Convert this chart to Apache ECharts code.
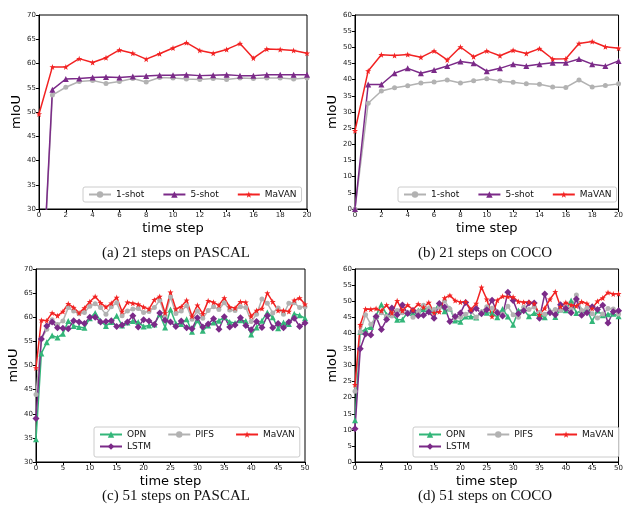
<!DOCTYPE html>
<html>
<head>
<meta charset="utf-8">
<script src="https://cdn.jsdelivr.net/npm/echarts@6/dist/echarts.min.js"></script>
<style>html,body{margin:0;padding:0;background:#fff}#c{width:626px;height:505px}</style>
</head>
<body>
<div id="c"></div>
<script>
// ---------- data ----------
var steps21 = [0,1,2,3,4,5,6,7,8,9,10,11,12,13,14,15,16,17,18,19,20];
var steps51 = [0,1,2,3,4,5,6,7,8,9,10,11,12,13,14,15,16,17,18,19,20,21,22,23,24,25,26,27,28,29,30,31,32,33,34,35,36,37,38,39,40,41,42,43,44,45,46,47,48,49,50];

// (a) 21 steps on PASCAL
var a_oneShot  = [0, 53.5, 55.1, 56.3, 56.5, 55.9, 56.3, 56.9, 56.2, 57.1, 57.0, 56.8, 56.7, 56.9, 56.7, 57.0, 56.9, 57.0, 57.0, 56.8, 57.0];
var a_fiveShot = [0, 54.6, 56.8, 56.9, 57.1, 57.2, 57.1, 57.3, 57.4, 57.6, 57.6, 57.7, 57.5, 57.6, 57.7, 57.5, 57.5, 57.7, 57.7, 57.7, 57.7];
var a_mavan    = [49.6, 59.3, 59.3, 61.0, 60.2, 61.2, 62.8, 62.1, 60.9, 62.0, 63.2, 64.3, 62.7, 62.1, 62.9, 64.1, 61.1, 63.0, 62.9, 62.7, 62.1];

// (b) 21 steps on COCO
var b_oneShot  = [0, 32.7, 36.5, 37.5, 38.1, 39.0, 39.3, 39.9, 39.0, 39.7, 40.3, 39.6, 39.2, 38.7, 38.6, 37.7, 37.6, 39.9, 37.7, 38.2, 38.7];
var b_fiveShot = [0, 38.5, 38.5, 42.0, 43.5, 42.0, 43.0, 44.2, 45.6, 45.1, 42.6, 43.5, 44.8, 44.2, 44.8, 45.2, 45.2, 46.4, 44.8, 44.2, 45.8];
var b_mavan    = [24.2, 42.7, 47.7, 47.5, 47.8, 46.9, 48.9, 46.1, 50.1, 47.1, 48.9, 47.4, 49.1, 48.1, 49.6, 46.4, 46.5, 51.2, 51.8, 50.2, 49.7];

// (c) 51 steps on PASCAL
var c_opn   = [34.7, 52.5, 54.8, 56.2, 55.8, 56.6, 59.2, 58.2, 58.0, 57.8, 59.8, 60.9, 59.3, 58.2, 59.0, 60.3, 58.3, 58.9, 59.2, 59.0, 58.1, 58.3, 58.5, 60.6, 57.9, 61.6, 58.7, 58.6, 59.6, 57.0, 59.4, 57.2, 58.3, 58.9, 59.3, 60.0, 59.0, 58.8, 59.4, 59.2, 56.4, 57.9, 59.3, 61.0, 60.0, 57.7, 58.9, 58.6, 60.7, 60.4, 59.8];
var c_pifs  = [44.0, 55.5, 57.5, 59.5, 58.5, 59.2, 62.0, 61.3, 60.7, 61.0, 62.3, 62.8, 62.0, 60.6, 62.2, 63.0, 60.3, 61.3, 61.7, 61.8, 61.0, 61.2, 62.0, 63.5, 60.3, 64.2, 60.8, 61.3, 62.4, 59.6, 61.3, 59.8, 61.4, 62.2, 61.6, 63.0, 61.5, 61.4, 62.2, 62.0, 59.1, 60.6, 63.8, 62.9, 60.9, 61.9, 60.6, 62.9, 63.0, 62.0, 62.2];
var c_lstm  = [39.0, 55.5, 58.2, 59.0, 57.8, 57.7, 57.6, 59.3, 59.0, 58.7, 60.0, 60.0, 59.0, 59.1, 59.3, 58.1, 58.4, 59.0, 60.3, 58.0, 59.5, 59.2, 58.5, 60.9, 59.4, 59.0, 58.1, 59.2, 57.8, 57.6, 59.9, 58.0, 58.6, 59.7, 57.5, 60.1, 58.0, 58.4, 59.9, 58.3, 57.4, 59.1, 57.9, 60.3, 57.8, 58.7, 57.8, 59.0, 59.8, 58.1, 58.8];
var c_mavan = [49.5, 59.4, 59.3, 60.9, 60.3, 61.2, 62.8, 62.0, 60.9, 61.9, 63.2, 64.3, 63.0, 62.1, 62.9, 64.1, 61.2, 63.1, 62.9, 62.7, 62.1, 61.7, 63.6, 64.3, 60.9, 65.2, 61.7, 62.2, 63.5, 60.2, 62.5, 60.7, 63.4, 63.1, 62.5, 64.0, 62.1, 61.9, 63.2, 63.1, 60.2, 61.4, 61.8, 65.0, 63.2, 61.4, 61.4, 61.2, 63.5, 64.0, 62.7];

// (d) 51 steps on COCO
var d_opn   = [13.0, 40.5, 41.2, 42.0, 45.5, 49.0, 45.8, 46.0, 44.2, 44.3, 46.5, 46.3, 47.1, 47.5, 47.8, 47.0, 49.2, 46.9, 47.7, 44.0, 43.6, 45.2, 45.2, 44.9, 46.6, 46.4, 46.3, 45.0, 47.6, 45.2, 42.7, 47.1, 47.3, 45.3, 46.3, 45.9, 45.0, 47.0, 45.1, 47.4, 47.2, 50.2, 46.3, 47.2, 47.4, 43.8, 47.1, 45.6, 45.9, 46.1, 45.3];
var d_pifs  = [22.0, 40.5, 45.8, 42.8, 44.9, 46.4, 45.2, 45.4, 47.1, 46.4, 46.4, 45.0, 46.8, 48.7, 47.7, 47.4, 48.0, 50.1, 47.6, 44.8, 45.0, 45.9, 46.9, 45.0, 46.7, 48.3, 47.8, 46.7, 46.0, 48.4, 45.8, 45.0, 48.1, 47.4, 48.2, 46.5, 45.9, 46.7, 47.4, 47.2, 48.3, 47.5, 51.9, 47.1, 47.8, 46.1, 44.8, 46.0, 47.7, 47.6, 46.0];
var d_lstm  = [10.3, 35.2, 39.8, 39.5, 45.2, 41.2, 44.3, 47.9, 45.8, 48.8, 46.2, 47.1, 45.5, 45.6, 46.6, 44.7, 49.3, 48.2, 43.7, 45.2, 46.3, 49.6, 47.0, 47.7, 46.1, 47.3, 50.3, 46.4, 45.4, 52.8, 50.2, 46.1, 47.0, 49.4, 49.4, 44.7, 52.2, 46.4, 45.8, 48.9, 47.7, 46.4, 50.7, 45.6, 46.4, 48.3, 47.4, 48.7, 43.2, 46.7, 47.0];
var d_mavan = [24.0, 42.7, 47.6, 47.5, 47.7, 47.0, 48.8, 46.3, 50.1, 47.0, 48.8, 47.3, 49.1, 48.1, 49.6, 46.4, 46.7, 51.0, 51.8, 50.2, 49.7, 49.8, 47.4, 49.3, 54.3, 50.6, 45.2, 50.3, 51.5, 51.4, 51.3, 49.9, 49.7, 49.7, 49.3, 45.8, 47.8, 50.6, 52.9, 48.3, 49.6, 48.8, 48.5, 49.8, 49.3, 47.7, 50.0, 51.0, 52.7, 52.2, 52.3];

var captions = ['(a) 21 steps on PASCAL', '(b) 21 steps on COCO', '(c) 51 steps on PASCAL', '(d) 51 steps on COCO'];
var xName = 'time step';
var yName = 'mIoU';

// ---------- styles ----------
var RED = '#f22222', PURPLE = '#7b2a88', GRAY = '#b2b2b2', GREEN = '#33b679';
var STAR = 'path://M0,-10L2.35,-3.24L9.51,-3.09L3.8,1.24L5.88,8.09L0,4.2L-5.88,8.09L-3.8,1.24L-9.51,-3.09L-2.35,-3.24Z';
var SANS = 'DejaVu Sans';

function pairs(xs, ys){ return xs.map(function(x,i){ return [x, ys[i]]; }); }

var grids = [
  {left: 39, top: 15, width: 268, height: 194},
  {left: 355, top: 15, width: 269, height: 194},
  {left: 36, top: 269, width: 269, height: 193},
  {left: 355, top: 269, width: 269, height: 193}
];
grids.forEach(function(g){ g.show = true; g.borderColor = '#000'; g.borderWidth = 1; g.backgroundColor = 'transparent'; });

function xAx(i, max, interval){
  return {gridIndex: i, type: 'value', min: 0, max: max, interval: interval,
    name: xName, nameLocation: 'middle', nameGap: 13,
    nameTextStyle: {fontFamily: SANS, fontSize: 13, color: '#000'},
    axisLine: {lineStyle: {color: '#000', width: 1}},
    axisTick: {show: true, length: 3, lineStyle: {color: '#000'}},
    axisLabel: {fontFamily: SANS, fontSize: 7, color: '#222', margin: 3},
    splitLine: {show: false}};
}
function yAx(i, min, max){
  return {gridIndex: i, type: 'value', min: min, max: max, interval: 5,
    name: yName, nameLocation: 'middle', nameGap: 13,
    nameTextStyle: {fontFamily: SANS, fontSize: 13, color: '#000'},
    axisLine: {show: true, lineStyle: {color: '#000', width: 1}},
    axisTick: {show: true, length: 3, lineStyle: {color: '#000'}},
    axisLabel: {fontFamily: SANS, fontSize: 7, color: '#222', margin: 3},
    splitLine: {show: false}};
}

function ser(name, gi, xs, ys, color, symbol, size){
  return {name: name, type: 'line', xAxisIndex: gi, yAxisIndex: gi,
    data: pairs(xs, ys), color: color, symbol: symbol, symbolSize: size,
    showAllSymbol: true, clip: true,
    lineStyle: {color: color, width: 1.5}, itemStyle: {color: color}};
}

var series = [
  ser('1-shot', 0, steps21, a_oneShot, GRAY, 'circle', 5),
  ser('5-shot', 0, steps21, a_fiveShot, PURPLE, 'triangle', 6),
  ser('MaVAN', 0, steps21, a_mavan, RED, STAR, 6),
  ser('1-shot', 1, steps21, b_oneShot, GRAY, 'circle', 5),
  ser('5-shot', 1, steps21, b_fiveShot, PURPLE, 'triangle', 6),
  ser('MaVAN', 1, steps21, b_mavan, RED, STAR, 6),
  ser('OPN', 2, steps51, c_opn, GREEN, 'triangle', 6),
  ser('PIFS', 2, steps51, c_pifs, GRAY, 'circle', 5),
  ser('LSTM', 2, steps51, c_lstm, PURPLE, 'diamond', 7),
  ser('MaVAN', 2, steps51, c_mavan, RED, STAR, 6),
  ser('OPN', 3, steps51, d_opn, GREEN, 'triangle', 6),
  ser('PIFS', 3, steps51, d_pifs, GRAY, 'circle', 5),
  ser('LSTM', 3, steps51, d_lstm, PURPLE, 'diamond', 7),
  ser('MaVAN', 3, steps51, d_mavan, RED, STAR, 6)
];

function lg(left, top, data, gap, pad, boxed, z){
  return {left: left, top: top, data: data, orient: 'horizontal', itemGap: gap,
    itemWidth: 22, itemHeight: 8, padding: pad, z: z,
    borderColor: boxed ? '#cccccc' : 'transparent', borderWidth: boxed ? 1 : 0, borderRadius: 2,
    backgroundColor: boxed ? 'rgba(255,255,255,0.85)' : 'transparent',
    textStyle: {fontFamily: SANS, fontSize: 9, color: '#111'}};
}

var legends = [
  lg(83, 187, ['1-shot','5-shot','MaVAN'], 18, [3,5,3,5], true, 4),
  lg(398, 187, ['1-shot','5-shot','MaVAN'], 18, [3,5,3,5], true, 4),
  lg(94, 427, ['OPN','PIFS','MaVAN'], 21, [3,5,18,5], true, 4),
  lg(94, 442, ['LSTM'], 21, [0,5,0,5], false, 5),
  lg(413, 427, ['OPN','PIFS','MaVAN'], 21, [3,5,18,5], true, 4),
  lg(413, 442, ['LSTM'], 21, [0,5,0,5], false, 5)
];

var capPos = [[176, 253], [485, 253], [176, 496], [485, 496]];
var graphics = captions.map(function(t, i){
  return {type: 'text', x: capPos[i][0], y: capPos[i][1],
    style: {text: t, textAlign: 'center', textVerticalAlign: 'middle',
      font: '15px "Liberation Serif"', fill: '#111'}};
});

var chart = echarts.init(document.getElementById('c'), null, {renderer: 'canvas'});
chart.setOption({
  animation: false,
  backgroundColor: '#fff',
  grid: grids,
  xAxis: [xAx(0, 20, 2), xAx(1, 20, 2), xAx(2, 50, 5), xAx(3, 50, 5)],
  yAxis: [yAx(0, 30, 70), yAx(1, 0, 60), yAx(2, 30, 70), yAx(3, 0, 60)],
  legend: legends,
  series: series,
  graphic: graphics
});
</script>
</body>
</html>
